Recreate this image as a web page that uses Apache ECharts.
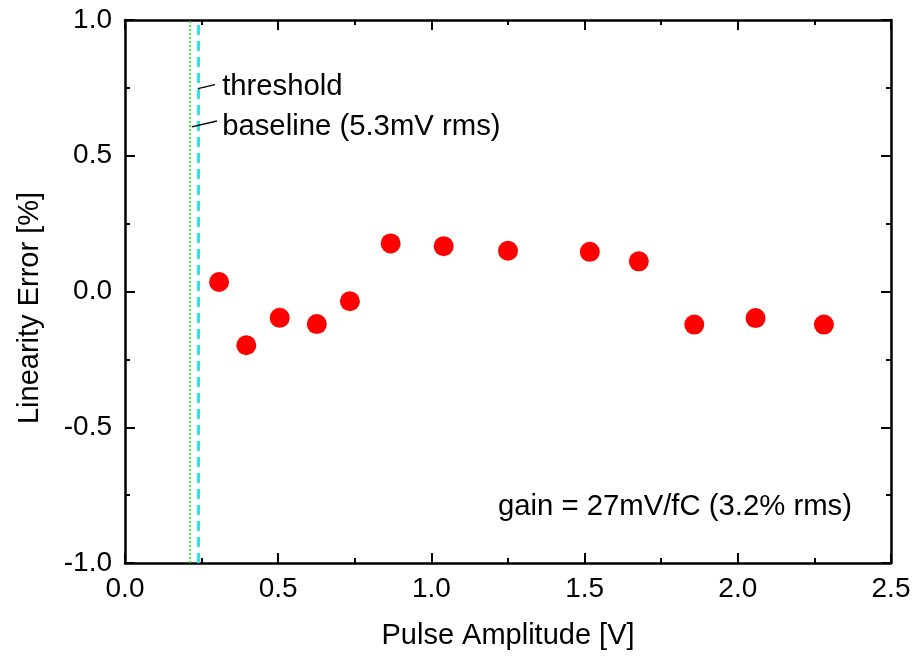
<!DOCTYPE html>
<html>
<head>
<meta charset="utf-8">
<script src="https://cdn.jsdelivr.net/npm/echarts@6/dist/echarts.min.js"></script>
<style>html,body{margin:0;padding:0;background:#fff;}#chart{width:918px;height:658px;}</style>
</head>
<body>
<div id="chart"></div>
<script>
// ---- data ----
const pulseAmplitude = [0.307, 0.396, 0.505, 0.626, 0.734, 0.867, 1.040, 1.250, 1.517, 1.677, 1.858, 2.058, 2.281];
const linearityError = [0.035, -0.198, -0.097, -0.120, -0.036, 0.177, 0.167, 0.150, 0.146, 0.111, -0.122, -0.098, -0.122];
const baselineX = 0.215;
const thresholdX = 0.242;
const xTickLabels = ['0.0', '0.5', '1.0', '1.5', '2.0', '2.5'];
const yTickLabels = ['-1.0', '-0.5', '0.0', '0.5', '1.0'];
const xTitle = 'Pulse Amplitude [V]';
const yTitle = 'Linearity Error [%]';
const notes = [
  { text: 'threshold', at: [0.317, 0.752], from: [0.238, 0.747], to: [0.294, 0.762] },
  { text: 'baseline (5.3mV rms)', at: [0.317, 0.608], from: [0.218, 0.606], to: [0.300, 0.628] },
  { text: 'gain = 27mV/fC (3.2% rms)', at: [1.217, -0.793] }
];

const FONT = '"Liberation Sans", Arial, sans-serif';
const FS = 28;
const FS_NOTE = 29.3;
const FS_TITLE = 29;

const chart = echarts.init(document.getElementById('chart'));

const axisCommon = {
  axisLine: { show: true, onZero: false, lineStyle: { color: '#000', width: 2.5 } },
  axisTick: { show: true, inside: true, length: 10, lineStyle: { color: '#000', width: 2 } },
  minorTick: { show: true, splitNumber: 2, length: 5, lineStyle: { color: '#000', width: 2 } },
  splitLine: { show: false }
};

const xMain = Object.assign({}, axisCommon, {
  type: 'value', min: 0, max: 2.5, interval: 0.5, position: 'bottom',
  axisLabel: { margin: 12, fontSize: FS, color: '#000', fontFamily: FONT,
    formatter: v => xTickLabels[Math.round(v / 0.5)] }
});
const xTop = Object.assign({}, axisCommon, {
  type: 'value', min: 0, max: 2.5, interval: 0.5, position: 'top',
  axisLabel: { show: false }
});
const yMain = Object.assign({}, axisCommon, {
  type: 'value', min: -1, max: 1, interval: 0.5, position: 'left',
  axisLabel: { margin: 13, fontSize: FS, color: '#000', fontFamily: FONT,
    formatter: v => yTickLabels[Math.round((v + 1) / 0.5)] }
});
const yRight = Object.assign({}, axisCommon, {
  type: 'value', min: -1, max: 1, interval: 0.5, position: 'right',
  axisLabel: { show: false }
});

const connectorLines = notes.filter(n => n.from).map(n => [{ coord: n.from }, { coord: n.to }]);

chart.setOption({
  animation: false,
  backgroundColor: '#fff',
  grid: { left: 125, right: 27, top: 20, bottom: 95, containLabel: false },
  xAxis: [xMain, xTop],
  yAxis: [yMain, yRight],
  graphic: [
    { type: 'text', x: 508, y: 636, style: { text: xTitle, fontSize: FS_TITLE, fill: '#000', fontFamily: FONT, align: 'center', verticalAlign: 'middle' } },
    { type: 'text', x: 30, y: 308, rotation: Math.PI / 2, style: { text: yTitle, fontSize: FS_TITLE, fill: '#000', fontFamily: FONT, align: 'center', verticalAlign: 'middle' } }
  ],
  series: [
    {
      type: 'scatter', name: 'refs', xAxisIndex: 0, yAxisIndex: 0, data: [], silent: true,
      markLine: {
        silent: true, symbol: 'none', animation: false, label: { show: false },
        data: [
          { xAxis: baselineX, lineStyle: { color: '#00ff00', width: 1.6, type: [2, 2], opacity: 1 } },
          { xAxis: thresholdX, lineStyle: { color: '#1fe8f5', width: 3, type: [10, 6], opacity: 1 } }
        ]
      }
    },
    {
      type: 'scatter', name: 'connectors', data: [], silent: true,
      markLine: {
        silent: true, symbol: 'none', animation: false, label: { show: false },
        lineStyle: { color: '#000', width: 1.3, type: 'solid', opacity: 1 },
        data: connectorLines
      }
    },
    {
      type: 'scatter', name: 'linearity', symbol: 'circle', symbolSize: 20,
      itemStyle: { color: '#ff0000', opacity: 1 },
      data: pulseAmplitude.map((x, i) => [x, linearityError[i]]),
      z: 5
    },
    {
      type: 'scatter', name: 'notes', symbolSize: 0, silent: true,
      itemStyle: { opacity: 1, color: '#000' },
      data: notes.map(n => ({ value: n.at, name: n.text })),
      label: { show: true, position: 'right', distance: 0, formatter: p => p.name,
        fontSize: FS_NOTE, color: '#000', opacity: 1, fontFamily: FONT }
    }
  ]
});
</script>
</body>
</html>
